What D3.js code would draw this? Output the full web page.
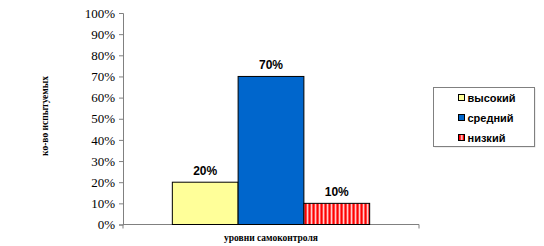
<!DOCTYPE html>
<html>
<head>
<meta charset="utf-8">
<script src="https://cdn.jsdelivr.net/npm/d3@7"></script>
<style>
  body { margin: 0; background: #fff; }
  svg { display: block; }
</style>
</head>
<body>
<div id="chart"></div>
<script>
var series = ["высокий", "средний", "низкий"];
var values = [0.20, 0.70, 0.10];
var category = "уровни самоконтроля";
var yTicks = [0, 0.1, 0.2, 0.3, 0.4, 0.5, 0.6, 0.7, 0.8, 0.9, 1.0];
var yTitle = "ко-во испытуемых";

var width = 544, height = 246;
var plotLeft = 123, plotRight = 419, plotTop = 13, plotBottom = 224.5;

var svg = d3.select("#chart").append("svg")
  .attr("width", width).attr("height", height);

var defs = svg.append("defs");
var pat = defs.append("pattern")
  .attr("id", "stripes")
  .attr("patternUnits", "userSpaceOnUse")
  .attr("width", 4).attr("height", 4);
pat.append("rect").attr("width", 4).attr("height", 4).attr("fill", "#ff0000");
pat.append("rect").attr("x", 2.6).attr("width", 1.4).attr("height", 4).attr("fill", "#ffffff");

var fills = ["#ffff99", "#0066cc", "url(#stripes)"];

var y = d3.scaleLinear().domain([0, 1]).range([plotBottom, plotTop]);
var x0 = d3.scaleBand().domain([category]).range([plotLeft, plotRight]).paddingInner(0).paddingOuter(0.25);
var x1 = d3.scaleBand().domain(series).range([0, x0.bandwidth()]);

// y axis
var yAxis = svg.append("g")
  .attr("transform", "translate(" + plotLeft + ",0)")
  .call(d3.axisLeft(y).tickValues(yTicks).tickSize(4).tickPadding(4).tickFormat(d3.format(".0%")));
yAxis.select(".domain").attr("stroke", "#808080");
yAxis.selectAll(".tick line").attr("stroke", "#808080");
yAxis.selectAll(".tick text")
  .attr("font-family", "Liberation Serif, Times New Roman, serif")
  .attr("font-size", 13).attr("fill", "#000");

// x axis
var xAxisG = svg.append("g").attr("transform", "translate(0," + plotBottom + ")");
xAxisG.append("line").attr("x1", plotLeft).attr("x2", plotRight).attr("stroke", "#808080");
xAxisG.selectAll(".xt").data([plotLeft, plotRight]).enter().append("line")
  .attr("x1", function(d) { return d; }).attr("x2", function(d) { return d; })
  .attr("y1", 0).attr("y2", 4).attr("stroke", "#808080");

// bars
var g = svg.append("g").attr("transform", "translate(" + x0(category) + ",0)");
g.selectAll("rect.bar").data(values).enter().append("rect")
  .attr("class", "bar")
  .attr("x", function(d, i) { return x1(series[i]); })
  .attr("y", function(d) { return y(d); })
  .attr("width", x1.bandwidth())
  .attr("height", function(d) { return plotBottom - y(d); })
  .attr("fill", function(d, i) { return fills[i]; })
  .attr("stroke", "#000").attr("stroke-width", 1);

g.selectAll("text.lbl").data(values).enter().append("text")
  .attr("class", "lbl")
  .attr("x", function(d, i) { return x1(series[i]) + x1.bandwidth() / 2; })
  .attr("y", function(d) { return y(d) - 7; })
  .attr("text-anchor", "middle")
  .attr("font-family", "Liberation Sans, Arial, sans-serif")
  .attr("font-weight", "bold").attr("font-size", 12)
  .text(function(d) { return d3.format(".0%")(d); });

// category label
svg.append("text")
  .attr("x", x0(category) + x0.bandwidth() / 2)
  .attr("y", 241)
  .attr("text-anchor", "middle")
  .attr("font-family", "Liberation Serif, Times New Roman, serif")
  .attr("font-weight", "bold").attr("font-size", 9.5)
  .text(category);

// y title
svg.append("text")
  .attr("transform", "translate(48,116) rotate(-90)")
  .attr("text-anchor", "middle")
  .attr("font-family", "Liberation Serif, Times New Roman, serif")
  .attr("font-weight", "bold").attr("font-size", 9.5)
  .text(yTitle);

// legend
var leg = svg.append("g").attr("transform", "translate(433.5,87.5)");
leg.append("rect").attr("x", 1).attr("y", 1).attr("width", 101).attr("height", 59).attr("fill", "#ddd");
leg.append("rect").attr("width", 101).attr("height", 59)
  .attr("fill", "#fff").attr("stroke", "#808080").attr("stroke-width", 1);
var items = leg.selectAll("g.item").data(series).enter().append("g")
  .attr("class", "item")
  .attr("transform", function(d, i) { return "translate(25," + (10 + i * 20) + ")"; });
items.append("rect").attr("x", 0).attr("y", -3).attr("width", 6).attr("height", 6)
  .attr("fill", function(d, i) { return fills[i]; })
  .attr("stroke", "#000").attr("stroke-width", 1);
items.append("text").attr("x", 9).attr("y", 4)
  .attr("font-family", "Liberation Sans, Arial, sans-serif")
  .attr("font-weight", "bold").attr("font-size", 11)
  .text(function(d) { return d; });
</script>
</body>
</html>
